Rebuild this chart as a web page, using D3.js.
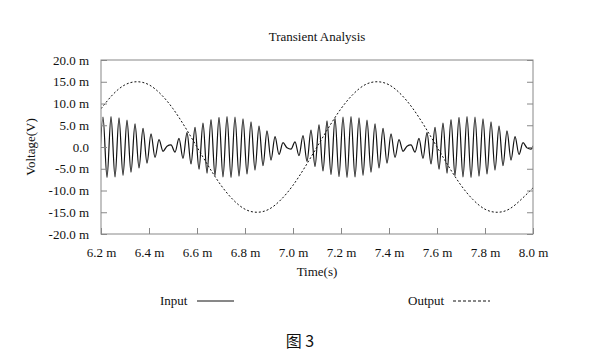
<!DOCTYPE html>
<html><head><meta charset="utf-8">
<script src="https://cdn.jsdelivr.net/npm/d3@7"></script>
<style>
html,body{margin:0;padding:0;background:#fff;}
svg text{font-family:"Liberation Serif","Times New Roman",serif;fill:#111;}
</style></head>
<body><svg id="c" width="593" height="358"></svg>
<script>
// ---- data (mV, ms) ----
const xTicks = [6.2,6.4,6.6,6.8,7.0,7.2,7.4,7.6,7.8,8.0];
const yTicks = [20,15,10,5,0,-5,-10,-15,-20];
// Input: successive carrier extremes, first at 6.1917 ms, one every 1/60 ms
const inputStart = 6.1917;
const inputStep = 1/60;
const inputPeaks = [
 -6.8, 6.9,-7.0, 7.0,-6.9, 6.7,-6.5, 6.2,-5.8, 5.3,
 -4.8, 4.3,-3.7, 3.0,-2.4, 1.7,-1.0, 0.2, 0.5,-1.2,
  2.0,-2.6, 3.3,-3.9, 4.5,-5.1, 5.5,-6.0, 6.3,-6.6,
  6.8,-6.9, 7.0,-7.0, 6.9,-6.7, 6.5,-6.2, 5.8,-5.3,
  4.8,-4.3, 3.7,-3.0, 2.4,-1.7, 1.0,-0.2,-0.5, 1.2,
 -2.0, 2.6,-3.3, 3.9,-4.5, 5.1,-5.5, 6.0,-6.3, 6.6,
 -6.8, 6.9,-7.0, 7.0,-6.9, 6.7,-6.5, 6.2,-5.8, 5.3,
 -4.8, 4.3,-3.7, 3.0,-2.4, 1.7,-1.0, 0.2, 0.5,-1.2,
  2.0,-2.6, 3.3,-3.9, 4.5,-5.1, 5.5,-6.0, 6.3,-6.6,
  6.8,-6.9, 7.0,-7.0, 6.9,-6.7, 6.5,-6.2, 5.8,-5.3,
  4.8,-4.3, 3.7,-3.0, 2.4,-1.7, 1.0,-0.2,-0.5, 1.2
];
const outputTimes = [6.20,6.25,6.30,6.35,6.40,6.45,6.50,6.55,6.60,6.65,6.70,6.75,6.80,6.85,6.90,6.95,7.00,7.05,7.10,7.15,7.20,7.25,7.30,7.35,7.40,7.45,7.50,7.55,7.60,7.65,7.70,7.75,7.80,7.85,7.90,7.95,8.00];
const outputValues = [8.8,12.1,14.3,15.0,14.3,12.1,8.8,4.6,0.0,-4.6,-8.8,-12.1,-14.3,-15.0,-14.3,-12.1,-8.8,-4.6,0.0,4.6,8.8,12.1,14.3,15.0,14.3,12.1,8.8,4.6,0.0,-4.6,-8.8,-12.1,-14.3,-15.0,-14.3,-12.1,-9.4];
const seriesNames = ["Input","Output"];

// ---- layout ----
const svg = d3.select("#c");
const L=101, R=533, T=60, B=234;
const x = d3.scaleLinear().domain([6.2,8.0]).range([L,R]);
const y = d3.scaleLinear().domain([-20,20]).range([B,T]);

svg.append("defs").append("clipPath").attr("id","clip")
  .append("rect").attr("x",L).attr("y",T).attr("width",R-L).attr("height",B-T);

const inputData = inputPeaks.map((v,i)=>({t:inputStart+i*inputStep, v}));
const outputData = outputTimes.map((t,i)=>({t, v:outputValues[i]}));

const g = svg.append("g").attr("clip-path","url(#clip)");
g.append("path").datum(outputData)
  .attr("d", d3.line().x(d=>x(d.t)).y(d=>y(d.v)).curve(d3.curveNatural))
  .attr("fill","none").attr("stroke","#111").attr("stroke-width",1)
  .attr("stroke-dasharray","2,2");
g.append("path").datum(inputData)
  .attr("d", d3.line().x(d=>x(d.t)).y(d=>y(d.v)).curve(d3.curveMonotoneX))
  .attr("fill","none").attr("stroke","#111").attr("stroke-width",1.2);

// frame
svg.append("rect").attr("x",L).attr("y",T).attr("width",R-L).attr("height",B-T)
  .attr("fill","none").attr("stroke","#888").attr("stroke-width",1);

const num = v => d3.format(".1f")(v).replace("\u2212","-");
const fmtY = v => v===0 ? "0.0" : num(v)+" m";
const ax = svg.append("g").attr("transform",`translate(${L},0)`)
  .call(d3.axisLeft(y).tickValues(yTicks).tickSize(-6).tickPadding(12).tickFormat(fmtY));
const axR = svg.append("g").attr("transform",`translate(${R},0)`)
  .call(d3.axisRight(y).tickValues(yTicks).tickSize(-6).tickFormat(""));
const axB = svg.append("g").attr("transform",`translate(0,${B})`)
  .call(d3.axisBottom(x).tickValues(xTicks).tickSize(-6).tickPadding(14).tickFormat(v=>num(v)+" m"));
[ax,axR,axB].forEach(a=>{
  a.select(".domain").remove();
  a.selectAll(".tick line").attr("stroke","#888");
  a.selectAll("text").style("font-size","13px").attr("fill","#111");
});

svg.append("text").attr("x",(L+R)/2).attr("y",41).attr("text-anchor","middle")
  .style("font-size","13px").text("Transient Analysis");
svg.append("text").attr("x",(L+R)/2).attr("y",276).attr("text-anchor","middle")
  .style("font-size","13px").text("Time(s)");
svg.append("text").attr("transform",`translate(35,${(T+B)/2}) rotate(-90)`).attr("text-anchor","middle")
  .style("font-size","13px").text("Voltage(V)");

// legend
const leg = [{name:seriesNames[0],x:160,lx:197,dash:null},{name:seriesNames[1],x:408,lx:453,dash:"3,2"}];
leg.forEach(d=>{
  svg.append("text").attr("x",d.x).attr("y",305).style("font-size","13px").text(d.name);
  svg.append("line").attr("x1",d.lx).attr("x2",d.lx+37).attr("y1",301).attr("y2",301)
    .attr("stroke","#111").attr("stroke-width",1).attr("stroke-dasharray",d.dash);
});

svg.append("text").attr("x",300).attr("y",347).attr("text-anchor","middle")
  .style("font-family","'Noto Sans CJK SC',sans-serif").style("font-size","16px").text("图 3");
</script></body></html>
